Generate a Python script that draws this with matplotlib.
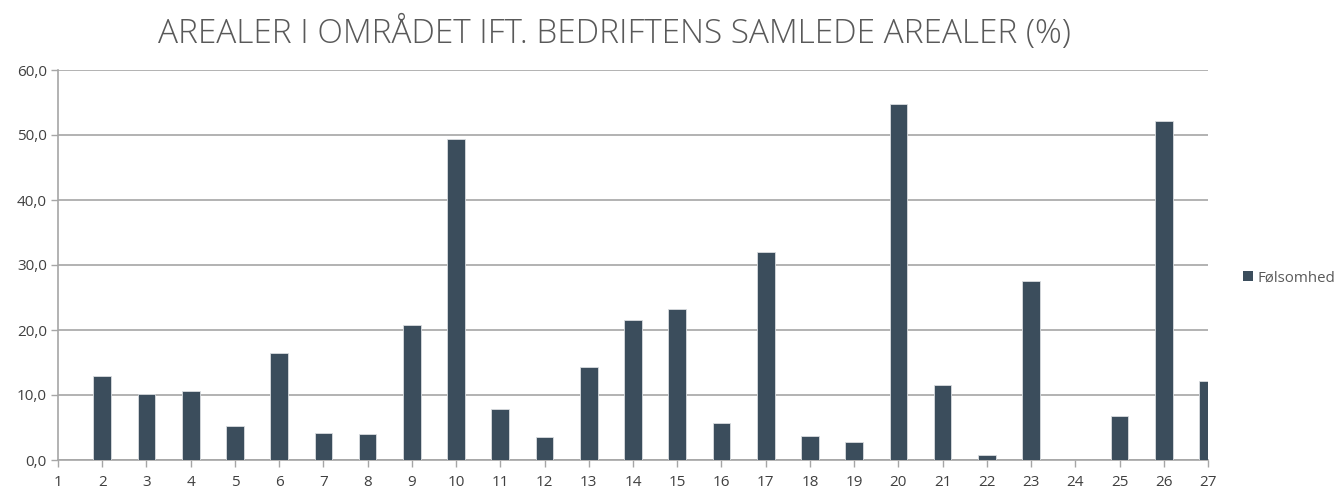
import matplotlib
matplotlib.use('Agg')
import matplotlib.pyplot as plt
from matplotlib.patches import Patch

plt.rcParams['font.family'] = ['Open Sans', 'DejaVu Sans']

# data
categories = list(range(1, 28))
values = [0, 12.9, 10.1, 10.6, 5.3, 16.4, 4.2, 4.0, 20.7, 49.4,
          7.9, 3.5, 14.3, 21.5, 23.3, 5.7, 32.0, 3.7, 2.8, 54.7,
          11.6, 0.7, 27.5, 0, 6.8, 52.2, 12.2]
y_ticks = [0, 10, 20, 30, 40, 50, 60]
title = 'AREALER I OMRÅDET IFT. BEDRIFTENS SAMLEDE AREALER (%)'
series_name = 'Følsomhed'

bar_color = '#3b4d5c'
grid_color = '#a6a6a6'
text_color = '#404040'

fig = plt.figure(figsize=(13.42, 4.88), dpi=100)
ax = fig.add_axes([58 / 1342, 1 - 460 / 488, 1150 / 1342, 390 / 488])

ax.bar(categories, values, width=0.4, color=bar_color,
       edgecolor='#d9dde0', linewidth=0.6, zorder=3)

ax.set_xlim(1, 27)
ax.set_ylim(0, 60)
ax.set_xticks(categories)
ax.set_xticklabels([str(c) for c in categories])
ax.set_yticks(y_ticks)
ax.set_yticklabels([f'{v:.1f}'.replace('.', ',') for v in y_ticks])

ax.grid(axis='y', color=grid_color, linewidth=1.2, zorder=0)
ax.grid(axis='x', visible=False)
for s in ['top', 'right']:
    ax.spines[s].set_visible(False)
ax.spines['left'].set_color(grid_color)
ax.spines['bottom'].set_color(grid_color)
ax.spines['left'].set_linewidth(1.2)
ax.spines['bottom'].set_linewidth(1.2)
ax.tick_params(axis='both', colors=grid_color, labelcolor=text_color,
               labelsize=11, length=5, width=1)
ax.tick_params(axis='x', pad=6)
ax.tick_params(axis='y', pad=3)

fig.text(614 / 1342, 1 - 33 / 488, title, ha='center', va='center',
         fontsize=24, color='#595959', fontweight='light')

fig.legend(handles=[Patch(facecolor=bar_color, label=series_name)],
           loc='center left', bbox_to_anchor=(1243 / 1342, 1 - 278 / 488),
           frameon=False, fontsize=10.8, labelcolor='#595959',
           borderpad=0, borderaxespad=0,
           handlelength=0.65, handleheight=0.65, handletextpad=0.3)

fig.savefig('out.png', dpi=100)
